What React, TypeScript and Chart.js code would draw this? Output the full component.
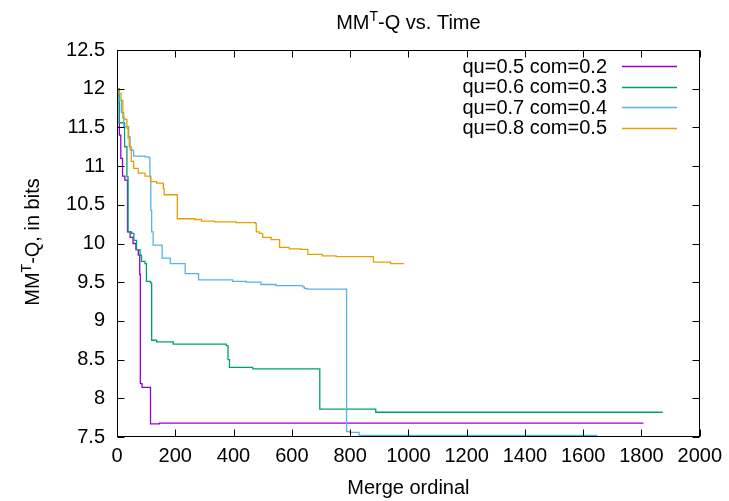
import React, { useEffect, useRef } from 'react';
import { Chart, registerables } from 'chart.js';

Chart.register(...registerables);

// ---- data ----
const seriesLabels = ['qu=0.5 com=0.2', 'qu=0.6 com=0.3', 'qu=0.7 com=0.4', 'qu=0.8 com=0.5'];
const seriesColors = ['#9400D3', '#009E73', '#56B4E9', '#E69F00'];

// each pair: [merge ordinal where value changes, new value]
const purplePoints: [number, number][] = [
  [0, 12.0], [2, 11.85], [8, 11.4], [13, 11.1], [19, 10.87], [27, 10.82], [36, 10.15],
  [45, 10.08], [55, 10.0], [65, 9.92], [73, 9.85], [78, 9.6], [80, 8.19], [86, 8.14],
  [115, 7.67], [145, 7.68], [1807, 7.68],
];
const greenPoints: [number, number][] = [
  [0, 12.0], [8, 11.56], [26, 11.25], [34, 10.86], [38, 10.15], [50, 10.13], [58, 10.04],
  [67, 9.92], [79, 9.85], [84, 9.77], [96, 9.74], [101, 9.51], [115, 9.49], [119, 8.75],
  [136, 8.73], [193, 8.7], [375, 8.68], [381, 8.5], [386, 8.4], [466, 8.38], [696, 7.86],
  [888, 7.82], [1873, 7.82],
];
const bluePoints: [number, number][] = [
  [0, 11.98], [6, 11.85], [15, 11.69], [23, 11.51], [34, 11.51], [40, 11.38], [45, 11.21],
  [54, 11.2], [57, 11.13], [96, 11.12], [109, 11.11], [113, 10.86], [116, 10.43], [119, 10.15],
  [124, 9.98], [155, 9.81], [183, 9.74], [234, 9.61], [280, 9.53], [397, 9.51], [444, 9.5],
  [494, 9.47], [546, 9.455], [637, 9.44], [643, 9.42], [653, 9.41], [788, 7.57], [799, 7.56],
  [831, 7.52], [1648, 7.52],
];
const orangePoints: [number, number][] = [
  [0, 12.0], [7, 11.94], [14, 11.85], [20, 11.62], [28, 11.6], [34, 11.49], [38, 11.36],
  [42, 11.25], [49, 11.06], [57, 10.97], [73, 10.91], [96, 10.87], [115, 10.8], [136, 10.78],
  [159, 10.71], [162, 10.63], [207, 10.32], [267, 10.31], [290, 10.29], [335, 10.28],
  [409, 10.27], [475, 10.26], [478, 10.15], [489, 10.13], [500, 10.08], [529, 10.05],
  [558, 9.95], [591, 9.93], [631, 9.925], [655, 9.86], [705, 9.84], [752, 9.83], [880, 9.76],
  [939, 9.74], [985, 9.74],
];
const allSeries = [purplePoints, greenPoints, bluePoints, orangePoints];

const xTickValues = [0, 200, 400, 600, 800, 1000, 1200, 1400, 1600, 1800, 2000];
const yTickValues = [7.5, 8, 8.5, 9, 9.5, 10, 10.5, 11, 11.5, 12, 12.5];

const titleText = ['MM', 'T', '-Q vs. Time'];
const yTitleText = ['MM', 'T', '-Q, in bits'];
const xTitleText = 'Merge ordinal';

const FONT = '"Liberation Sans", Arial, sans-serif';
const FS = 20;

function drawSup(ctx: CanvasRenderingContext2D, parts: string[], cx: number, baseline: number) {
  ctx.font = `${FS}px ${FONT}`;
  const w0 = ctx.measureText(parts[0]).width;
  const w2 = ctx.measureText(parts[2]).width;
  ctx.font = `14px ${FONT}`;
  const w1 = ctx.measureText(parts[1]).width;
  const total = w0 + w1 + w2;
  let x = cx - total / 2;
  ctx.textAlign = 'left';
  ctx.textBaseline = 'alphabetic';
  ctx.font = `${FS}px ${FONT}`;
  ctx.fillText(parts[0], x, baseline);
  x += w0;
  ctx.font = `14px ${FONT}`;
  ctx.fillText(parts[1], x, baseline - 8);
  x += w1;
  ctx.font = `${FS}px ${FONT}`;
  ctx.fillText(parts[2], x, baseline);
}

const decorPlugin = {
  id: 'decor',
  afterDatasetsDraw(chart: any) {
    const ctx: CanvasRenderingContext2D = chart.ctx;
    const { left, right, top, bottom } = chart.chartArea;
    const xs = chart.scales.x;
    const ys = chart.scales.y;
    ctx.save();
    ctx.strokeStyle = '#000';
    ctx.lineWidth = 1;
    const L = Math.round(left) + 0.5;
    const R = Math.round(right) - 0.5;
    const T = Math.round(top) + 0.5;
    const B = Math.round(bottom) - 0.5;
    ctx.beginPath();
    const tl = 7;
    xTickValues.forEach((v) => {
      const px = Math.round(xs.getPixelForValue(v)) + 0.5;
      ctx.moveTo(px, B);
      ctx.lineTo(px, B - tl);
      ctx.moveTo(px, T);
      ctx.lineTo(px, T + tl);
    });
    yTickValues.forEach((v) => {
      const py = Math.round(ys.getPixelForValue(v)) + 0.5;
      ctx.moveTo(L, py);
      ctx.lineTo(L + tl, py);
      ctx.moveTo(R, py);
      ctx.lineTo(R - tl, py);
    });
    ctx.stroke();
    ctx.strokeRect(L, T, R - L, B - T);
    ctx.restore();
  },
  afterDraw(chart: any) {
    const ctx: CanvasRenderingContext2D = chart.ctx;
    const { left, right } = chart.chartArea;
    ctx.save();
    ctx.fillStyle = '#000';
    // title
    drawSup(ctx, titleText, (left + right) / 2, 29);
    // x title
    ctx.font = `${FS}px ${FONT}`;
    ctx.textAlign = 'center';
    ctx.textBaseline = 'alphabetic';
    ctx.fillText(xTitleText, (left + right) / 2, 494);
    // y title
    ctx.save();
    ctx.translate(39, 242);
    ctx.rotate(-Math.PI / 2);
    drawSup(ctx, yTitleText, 0, 0);
    ctx.restore();
    // legend
    ctx.font = `${FS}px ${FONT}`;
    ctx.textAlign = 'right';
    ctx.textBaseline = 'middle';
    seriesLabels.forEach((lab, i) => {
      const y = 66 + i * 20.5;
      ctx.fillStyle = '#000';
      ctx.fillText(lab, 607, y + 1);
      ctx.strokeStyle = seriesColors[i];
      ctx.lineWidth = 1.3;
      ctx.beginPath();
      ctx.moveTo(622, Math.round(y) + 0.5);
      ctx.lineTo(677, Math.round(y) + 0.5);
      ctx.stroke();
    });
    ctx.restore();
  },
};

export default function App() {
  const canvasRef = useRef<HTMLCanvasElement | null>(null);

  useEffect(() => {
    if (!canvasRef.current) return;
    const chart = new Chart(canvasRef.current, {
      type: 'line',
      data: {
        datasets: allSeries.map((pts, i) => ({
          label: seriesLabels[i],
          data: pts.map(([x, y]) => ({ x, y })),
          borderColor: seriesColors[i],
          backgroundColor: seriesColors[i],
          borderWidth: 1.3,
          pointRadius: 0,
          fill: false,
          stepped: true,
          order: 4 - i,
        })),
      },
      options: {
        animation: false,
        responsive: false,
        maintainAspectRatio: false,
        devicePixelRatio: 1,
        layout: { padding: { left: 0, right: 28, top: 50, bottom: 0 } },
        plugins: {
          legend: { display: false },
          title: { display: false },
          tooltip: { enabled: false },
        },
        scales: {
          x: {
            type: 'linear',
            min: 0,
            max: 2000,
            grid: { display: false, drawTicks: false },
            border: { display: false },
            afterBuildTicks: (scale: any) => {
              scale.ticks = xTickValues.map((v) => ({ value: v }));
            },
            afterFit: (scale: any) => {
              scale.height = 64;
            },
            ticks: {
              autoSkip: false,
              maxRotation: 0,
              padding: 7,
              color: '#000',
              font: { family: FONT, size: FS },
              callback: (v: any) => String(v),
            },
          },
          y: {
            type: 'linear',
            min: 7.5,
            max: 12.5,
            grid: { display: false, drawTicks: false },
            border: { display: false },
            afterBuildTicks: (scale: any) => {
              scale.ticks = yTickValues.map((v) => ({ value: v }));
            },
            afterFit: (scale: any) => {
              scale.width = 117;
            },
            ticks: {
              autoSkip: false,
              padding: 12,
              color: '#000',
              font: { family: FONT, size: FS },
              callback: (v: any) => String(v),
            },
          },
        },
      },
      plugins: [decorPlugin],
    });
    return () => chart.destroy();
  }, []);

  return (
    <div style={{ position: 'fixed', left: 0, top: 0, width: 729, height: 501, background: '#fff' }}>
      <canvas ref={canvasRef} width={729} height={501} style={{ width: 729, height: 501 }} />
    </div>
  );
}
